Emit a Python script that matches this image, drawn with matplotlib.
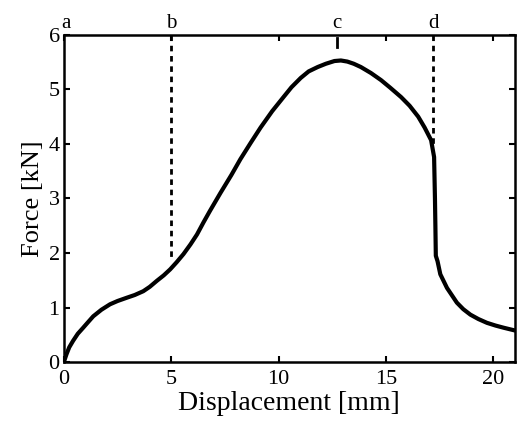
from matplotlib import pyplot as plt
import numpy as np

# force-displacement curve
disp = [0, 0.12, 0.25, 0.43, 0.65, 0.9, 1.1, 1.37, 1.75, 2.15, 2.5, 2.93,
        3.3, 3.7, 4.0, 4.33, 4.65, 4.95, 5.25, 5.57, 5.9, 6.2, 6.5, 6.8,
        7.29, 7.8, 8.22, 8.7, 9.16, 9.7, 10.23, 10.6, 11.03, 11.4, 11.82,
        12.2, 12.6, 12.9, 13.2, 13.5, 13.83, 14.3, 14.77, 15.2, 15.7, 16.1,
        16.5, 16.8, 17.1, 17.24, 17.28, 17.3, 17.32, 17.4, 17.53, 17.84,
        18.3, 18.6, 18.93, 19.3, 19.7, 20.1, 20.48, 21.0]
force = [0, 0.14, 0.27, 0.39, 0.52, 0.63, 0.72, 0.84, 0.96, 1.06, 1.12, 1.18,
         1.23, 1.30, 1.38, 1.49, 1.59, 1.70, 1.83, 1.98, 2.16, 2.34, 2.56,
         2.77, 3.1, 3.43, 3.72, 4.02, 4.3, 4.6, 4.86, 5.04, 5.21, 5.33, 5.41,
         5.47, 5.52, 5.53, 5.51, 5.47, 5.41, 5.3, 5.17, 5.03, 4.86, 4.7,
         4.5, 4.3, 4.07, 3.76, 3.0, 2.5, 1.95, 1.85, 1.61, 1.36,
         1.09, 0.97, 0.87, 0.79, 0.72, 0.67, 0.63, 0.58]

# markers at top
mark_names = ['a', 'b', 'c', 'd']
mark_x = [0.1, 5.0, 12.7, 17.2]
mark_bottom = [6.0, 1.85, 5.78, 3.95]

plt.rcParams['font.family'] = ['Liberation Serif', 'DejaVu Serif']

fig = plt.figure(figsize=(5.19, 4.25), dpi=100)
ax = fig.add_axes([0.123, 0.148, 0.869, 0.77])

ax.plot(disp, force, color='black', lw=3, solid_joinstyle='round')

for name, x, yb in zip(mark_names, mark_x, mark_bottom):
    if yb < 5.9:
        if 6.0 - yb < 0.5:
            # short mark, single dash
            ax.plot([x, x], [5.95, yb], color='black', lw=2)
        else:
            ax.plot([x, x], [6.0, yb], color='black', lw=2, linestyle=(0, (2, 1.7)))
    ax.text(x, 6.03, name, ha='center', va='bottom', fontsize=15)

ax.set_xlim(0, 21)
ax.set_ylim(0, 6)
ax.set_xticks([0, 5, 10, 15, 20])
ax.set_yticks([0, 1, 2, 3, 4, 5, 6])
ax.tick_params(direction='in', top=True, right=True, length=4, width=1.5,
               labelsize=16)
ax.tick_params(axis='x', pad=6)
ax.tick_params(axis='y', pad=3)
for sp in ax.spines.values():
    sp.set_linewidth(1.8)

ax.set_xlabel('Displacement [mm]', fontsize=20, labelpad=1)
ax.set_ylabel('Force [kN]', fontsize=19, labelpad=3)

fig.savefig('out.png', dpi=100)
